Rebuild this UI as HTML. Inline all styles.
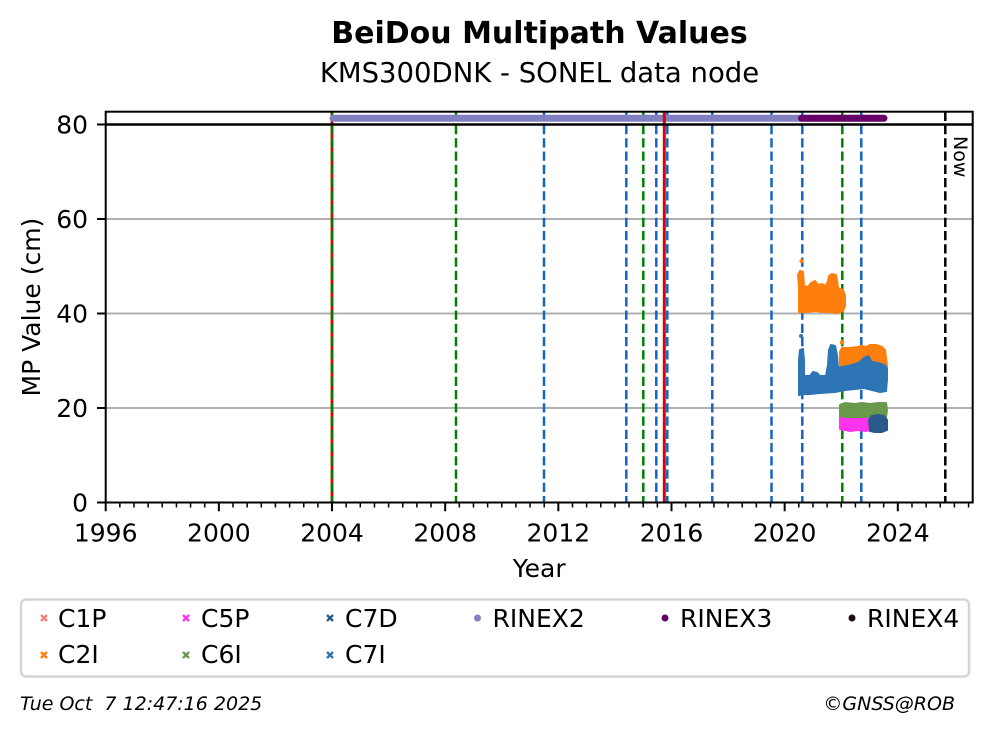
<!DOCTYPE html>
<html>
<head>
<meta charset="utf-8">
<style>
  html,body{margin:0;padding:0;background:#fff;}
  svg{display:block;}
  text{font-family:"DejaVu Sans","Liberation Sans",sans-serif;fill:#000;}
</style>
</head>
<body>
<svg width="992" height="734" viewBox="0 0 992 734" xmlns="http://www.w3.org/2000/svg">
  <rect x="0" y="0" width="992" height="734" fill="#fff"/>

  <!-- Titles -->
  <text x="539.5" y="43" font-size="30" font-weight="bold" text-anchor="middle">BeiDou Multipath Values</text>
  <text x="539.5" y="82" font-size="27.5" text-anchor="middle">KMS300DNK - SONEL data node</text>

  <!-- Grid -->
  <g stroke="#b0b0b0" stroke-width="2">
    <line x1="105.7" y1="408" x2="972.7" y2="408"/>
    <line x1="105.7" y1="313.5" x2="972.7" y2="313.5"/>
    <line x1="105.7" y1="219" x2="972.7" y2="219"/>
  </g>

  <!-- Red solid line at 2004 (under dashed) -->
  <line x1="332" y1="111.7" x2="332" y2="502.5" stroke="#e00000" stroke-width="2.8"/>

  <!-- Dashed vertical lines -->
  <g stroke-width="2.5" stroke-dasharray="9.25 4" fill="none">
    <line x1="332" y1="111.7" x2="332" y2="502.5" stroke="#008000"/>
    <line x1="456" y1="111.7" x2="456" y2="502.5" stroke="#008000"/>
    <line x1="544" y1="111.7" x2="544" y2="502.5" stroke="#1565c0"/>
    <line x1="626.3" y1="111.7" x2="626.3" y2="502.5" stroke="#1565c0"/>
    <line x1="643.3" y1="111.7" x2="643.3" y2="502.5" stroke="#008000"/>
    <line x1="656.3" y1="111.7" x2="656.3" y2="502.5" stroke="#1565c0"/>
    <line x1="667.3" y1="111.7" x2="667.3" y2="502.5" stroke="#1565c0"/>
    <line x1="712.3" y1="111.7" x2="712.3" y2="502.5" stroke="#1565c0"/>
    <line x1="771.5" y1="111.7" x2="771.5" y2="502.5" stroke="#1565c0"/>
    <line x1="802.3" y1="111.7" x2="802.3" y2="502.5" stroke="#1565c0"/>
    <line x1="842.3" y1="111.7" x2="842.3" y2="502.5" stroke="#008000"/>
    <line x1="861.3" y1="111.7" x2="861.3" y2="502.5" stroke="#1565c0"/>
    <line x1="945.3" y1="111.7" x2="945.3" y2="502.5" stroke="#000"/>
  </g>

  <!-- RINEX bars -->
  <line x1="333" y1="118.3" x2="800" y2="118.3" stroke="#8080c0" stroke-width="7" stroke-linecap="round"/>
  <line x1="801.5" y1="118.3" x2="884" y2="118.3" stroke="#660066" stroke-width="7" stroke-linecap="round"/>

  <!-- Red solid line ~2015.8 -->
  <line x1="664.3" y1="111.7" x2="664.3" y2="502.5" stroke="#e00000" stroke-width="3"/>

  <!-- Black horizontal line at 80 -->
  <line x1="105.7" y1="124.5" x2="972.7" y2="124.5" stroke="#000" stroke-width="2.5"/>

  <!-- Scatter data -->
  <g stroke-width="2" stroke-linejoin="round">
    <!-- C2I orange cluster 1 -->
    <polygon fill="#ff7f0e" stroke="#ff7f0e" points="799,312 799,287 798,275 800,271 803,272 804,286 808,287 811,283 815,281 818,285 822,284 826,286 828,281 829,276 832,274 836,275 837,280 838,288 843,290 845,296 845,306 843,311 837,313 831,312 824,312 815,311 807,312"/>
    <circle cx="801.5" cy="261" r="2" fill="#ff7f0e" stroke="none"/>
    <!-- C2I orange cluster 2 -->
    <polygon fill="#ff7f0e" stroke="#ff7f0e" points="840,366 840,352 842,348 850,348 858,347 862,346 866,347 870,345 876,345 882,347 885,350 886,358 887,366 884,368 878,366 870,365 860,366 850,365"/>
    <circle cx="842" cy="342.5" r="2.2" fill="#ff7f0e" stroke="none"/>
    <circle cx="862" cy="347" r="2.2" fill="#ff7f0e" stroke="none"/>
    <!-- C7I blue -->
    <polygon fill="#2e75b6" stroke="#2e75b6" points="799,393 799,360 800,350 803,349 804,360 804,376 810,376 813,372 817,373 820,376 826,376 828,365 829,350 831,345 835,346 837,355 838,368 842,367 848,366 855,364 860,362 864,358 868,356 872,362 878,363 884,365 887,368 887,380 886,391 880,392 872,390 864,388 855,389 845,390 835,392 820,393 810,394 803,394 799,395"/>
    <circle cx="801" cy="336" r="2" fill="#2e75b6" stroke="none"/>
    <!-- C5P magenta -->
    <polygon fill="#ff33ee" stroke="#ff33ee" points="840,429 840,417 850,416 860,417 870,416 872,420 872,429 866,431 858,430 850,431"/>
    <!-- C6I green -->
    <polygon fill="#6a994c" stroke="#6a994c" points="840,416 840,405 845,403 855,404 862,403 870,404 878,403 886,403 887,410 886,417 875,417 865,417 855,417 845,417"/>
    <!-- C7D dark blue -->
    <polygon fill="#2a5a8c" stroke="#2a5a8c" points="870,431 869,420 872,416 878,415 884,416 887,420 887,430 882,432 875,432"/>
  </g>

  <!-- Now label -->
  <text transform="translate(954,136) rotate(90)" font-size="19">Now</text>

  <!-- Axes frame -->
  <rect x="105.7" y="111.7" width="867" height="390.8" fill="none" stroke="#000" stroke-width="2"/>

  <!-- Y ticks -->
  <g stroke="#000" stroke-width="2">
    <line x1="97" y1="502.5" x2="105.7" y2="502.5"/>
    <line x1="97" y1="408" x2="105.7" y2="408"/>
    <line x1="97" y1="313.5" x2="105.7" y2="313.5"/>
    <line x1="97" y1="219" x2="105.7" y2="219"/>
    <line x1="97" y1="124.5" x2="105.7" y2="124.5"/>
  </g>
  <g font-size="25" text-anchor="end">
    <text x="88" y="511.5">0</text>
    <text x="88" y="417">20</text>
    <text x="88" y="322.5">40</text>
    <text x="88" y="228">60</text>
    <text x="88" y="133.5">80</text>
  </g>

  <!-- X major ticks -->
  <path stroke="#000" stroke-width="2" fill="none" d="M105.7 502.5v8.75 M218.86 502.5v8.75 M332.02 502.5v8.75 M445.18 502.5v8.75 M558.34 502.5v8.75 M671.5 502.5v8.75 M784.66 502.5v8.75 M897.82 502.5v8.75"/>
  <!-- X minor ticks -->
  <path stroke="#000" stroke-width="1.5" fill="none" d="M119.85 502.5v5 M133.99 502.5v5 M148.14 502.5v5 M162.28 502.5v5 M176.43 502.5v5 M190.57 502.5v5 M204.72 502.5v5
  M233.01 502.5v5 M247.15 502.5v5 M261.3 502.5v5 M275.44 502.5v5 M289.59 502.5v5 M303.73 502.5v5 M317.88 502.5v5
  M346.17 502.5v5 M360.31 502.5v5 M374.46 502.5v5 M388.6 502.5v5 M402.75 502.5v5 M416.89 502.5v5 M431.04 502.5v5
  M459.33 502.5v5 M473.47 502.5v5 M487.62 502.5v5 M501.76 502.5v5 M515.91 502.5v5 M530.05 502.5v5 M544.2 502.5v5
  M572.49 502.5v5 M586.63 502.5v5 M600.78 502.5v5 M614.92 502.5v5 M629.07 502.5v5 M643.21 502.5v5 M657.36 502.5v5
  M685.65 502.5v5 M699.79 502.5v5 M713.94 502.5v5 M728.08 502.5v5 M742.23 502.5v5 M756.37 502.5v5 M770.52 502.5v5
  M798.81 502.5v5 M812.95 502.5v5 M827.1 502.5v5 M841.24 502.5v5 M855.39 502.5v5 M869.53 502.5v5 M883.68 502.5v5
  M911.97 502.5v5 M926.11 502.5v5 M940.26 502.5v5 M954.4 502.5v5 M968.55 502.5v5"/>
  <g font-size="25" text-anchor="middle">
    <text x="105.7" y="541.5">1996</text>
    <text x="218.86" y="541.5">2000</text>
    <text x="332.02" y="541.5">2004</text>
    <text x="445.18" y="541.5">2008</text>
    <text x="558.34" y="541.5">2012</text>
    <text x="671.5" y="541.5">2016</text>
    <text x="784.66" y="541.5">2020</text>
    <text x="897.82" y="541.5">2024</text>
  </g>

  <!-- Axis labels -->
  <text x="539.2" y="577" font-size="25" text-anchor="middle">Year</text>
  <text transform="translate(40,307.1) rotate(-90)" font-size="25" text-anchor="middle">MP Value (cm)</text>

  <!-- Legend -->
  <rect x="21" y="599.5" width="948" height="77" rx="5" ry="5" fill="#fff" stroke="#d5d5d5" stroke-width="2.5"/>
  <g stroke-width="2.4" stroke-linecap="butt">
    <path d="M41 615l6 6M47 615l-6 6" stroke="#fa8072"/>
    <path d="M41 652l6 6M47 652l-6 6" stroke="#ff7f0e"/>
    <path d="M183 615l6 6M189 615l-6 6" stroke="#ff33ee"/>
    <path d="M183 652l6 6M189 652l-6 6" stroke="#6a994c"/>
    <path d="M327 615l6 6M333 615l-6 6" stroke="#2a5a8c"/>
    <path d="M327 652l6 6M333 652l-6 6" stroke="#2e75b6"/>
  </g>
  <circle cx="477.5" cy="618" r="3.5" fill="#8080c0"/>
  <circle cx="665" cy="618" r="3.5" fill="#660066"/>
  <circle cx="852" cy="618" r="3.5" fill="#1a0a1a"/>
  <g font-size="25">
    <text x="58" y="627">C1P</text>
    <text x="58" y="663">C2I</text>
    <text x="201" y="627">C5P</text>
    <text x="201" y="663">C6I</text>
    <text x="345" y="627">C7D</text>
    <text x="345" y="663">C7I</text>
    <text x="492.5" y="627">RINEX2</text>
    <text x="680" y="627">RINEX3</text>
    <text x="867" y="627">RINEX4</text>
  </g>

  <!-- Footer -->
  <text x="20" y="710" font-size="19" font-style="italic" style="white-space:pre">Tue Oct  7 12:47:16 2025</text>
  <text x="955" y="710" font-size="19" font-style="italic" text-anchor="end">©GNSS@ROB</text>
</svg>
</body>
</html>
